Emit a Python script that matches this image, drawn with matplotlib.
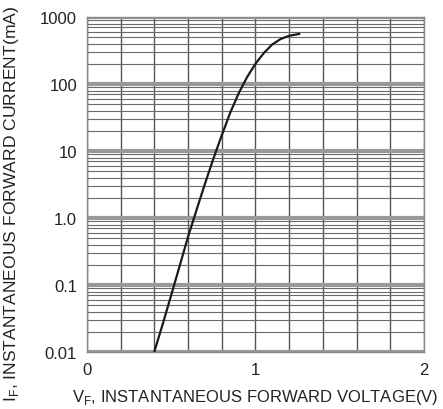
import numpy as np
import matplotlib
matplotlib.use('Agg')
import matplotlib.pyplot as plt
from matplotlib.ticker import FixedLocator, LogLocator, NullFormatter

# forward voltage (V) vs instantaneous forward current (mA)
vf = [0.40, 0.45, 0.50, 0.55, 0.60, 0.65, 0.70, 0.75, 0.80, 0.85,
      0.90, 0.95, 1.00, 1.05, 1.10, 1.15, 1.20, 1.26]
i_f = [0.01, 0.026, 0.07, 0.19, 0.52, 1.3, 3.2, 7.6, 17, 37,
       72, 126, 200, 290, 390, 470, 525, 560]

x_ticks = [0, 1, 2]
x_ticklabels = ['0', '1', '2']
y_ticks = [0.01, 0.1, 1, 10, 100, 1000]
y_ticklabels = ['0.01', '0.1', '1.0', '10', '100', '1000']

plt.rcParams['font.family'] = ['Liberation Sans', 'DejaVu Sans']

fig = plt.figure(figsize=(4.43, 4.10), dpi=100)
ax = fig.add_axes([0.196, 0.139, 0.761, 0.817])

ax.set_yscale('log')
ax.set_xlim(0, 2)
ax.set_ylim(0.01, 1000)

# grid: vertical every 0.2 V, log minor lines, thick grey band at decades
ax.xaxis.set_minor_locator(FixedLocator(np.arange(0.2, 2.0, 0.2)))
ax.yaxis.set_minor_locator(LogLocator(base=10, subs=np.arange(2, 10)))
ax.yaxis.set_minor_formatter(NullFormatter())
ax.grid(True, which='both', axis='x', color='#555555', lw=1.0)
ax.grid(True, which='minor', axis='y', color='#6a6a6a', lw=0.8)
ax.grid(True, which='major', axis='y', color='#999999', lw=3.0)

ax.plot(vf, i_f, color='#1a1a1a', lw=1.6, zorder=3)

ax.set_xticks(x_ticks)
ax.set_xticklabels(x_ticklabels)
ax.set_yticks(y_ticks)
ax.set_yticklabels(y_ticklabels)
ax.tick_params(which='both', length=0, labelsize=12, colors='#222222', pad=7)

for s in ax.spines.values():
    s.set_color('#888888')
    s.set_linewidth(1.0)

ax.set_xlabel(r'V$_\mathregular{F}$, INSTANTANEOUS FORWARD VOLTAGE(V)',
              fontsize=12, color='#222222')
ax.set_ylabel(r'I$_\mathregular{F}$, INSTANTANEOUS FORWARD CURRENT(mA)',
              fontsize=12.6, color='#222222')
ax.xaxis.set_label_coords(0.50, -0.105)
ax.yaxis.set_label_coords(-0.195, 0.445)

fig.savefig('out.png', dpi=100)
